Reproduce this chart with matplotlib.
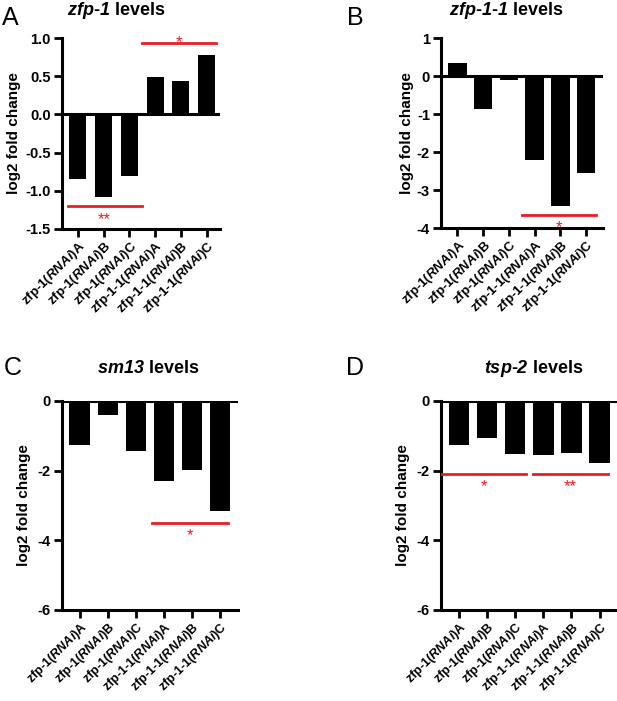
import matplotlib
matplotlib.use('Agg')
import matplotlib.pyplot as plt

plt.rcParams['font.family'] = ['Liberation Sans', 'DejaVu Sans']
plt.rcParams['font.weight'] = 'bold'
plt.rcParams['mathtext.fontset'] = 'custom'
# everything inside $...$ is bold italic (digits included)
plt.rcParams['mathtext.it'] = 'Liberation Sans:italic:bold'
plt.rcParams['mathtext.rm'] = 'Liberation Sans:italic:bold'
plt.rcParams['mathtext.bf'] = 'Liberation Sans:italic:bold'

samples = [r'zfp-1($RNAi$)A',
           r'zfp-1($RNAi$)B',
           r'zfp-1($RNAi$)C',
           r'zfp-1-1($RNAi$)A',
           r'zfp-1-1($RNAi$)B',
           r'zfp-1-1($RNAi$)C']

zfp1_vals = [-0.85, -1.08, -0.80, 0.49, 0.44, 0.78]
zfp11_vals = [0.33, -0.88, -0.10, -2.20, -3.42, -2.56]
sm13_vals = [-1.27, -0.41, -1.43, -2.29, -1.99, -3.15]
tsp2_vals = [-1.27, -1.05, -1.53, -1.55, -1.50, -1.79]

titles = [r'$zfp$-$1$ levels',
          r'$zfp$-$1$-$1$ levels',
          r'$sm13$ levels',
          r'$tsp$-$2$ levels']

# significance lines: (x start, x end, y, stars, star baseline y)
sig_A = [(2.47, 5.35, 0.93, '*', 0.88), (-0.4, 2.47, -1.20, '**', -1.44)]
sig_B = [(2.5, 5.38, -3.66, '*', -4.1)]
sig_C = [(2.57, 5.3, -3.50, '*', -4.0)]
sig_D = [(-0.6, 2.38, -2.09, '*', -2.6), (2.63, 5.29, -2.09, '**', -2.6)]

W, H = 617, 701
RED = '#ec1c24'

fig = plt.figure(figsize=(W / 100, H / 100), dpi=100)


def px_axes(left, top, right, bottom):
    return fig.add_axes([left / W, 1 - bottom / H, (right - left) / W, (bottom - top) / H])


def draw_panel(ax, vals, ylim, yticks, yfmt, xlim, width, sigs, ylab_x, xfs):
    x = list(range(len(vals)))
    ax.bar(x, vals, width=width, color='black', zorder=2)
    ax.axhline(0, color='black', lw=2.2, zorder=3)
    ax.set_xlim(*xlim)
    ax.set_ylim(*ylim)
    ax.set_yticks(yticks)
    ax.set_yticklabels([yfmt.format(t) for t in yticks], fontsize=10.5, fontweight='bold')
    ax.set_xticks(x)
    ax.set_xticklabels(samples, rotation=45, ha='right', va='top',
                       rotation_mode='anchor', fontsize=xfs, fontweight='bold')
    for s in ['top', 'right']:
        ax.spines[s].set_visible(False)
    for s in ['left', 'bottom']:
        ax.spines[s].set_linewidth(2.2)
    ax.tick_params(axis='both', length=6, width=2.0, pad=2)
    ax.tick_params(axis='x', pad=1)
    ax.set_ylabel('log2 fold change', fontsize=11, fontweight='bold')
    ax.yaxis.label.set_va('center')
    ax.yaxis.set_label_coords(ylab_x, 0.5)
    for x0, x1, y, stars, sy in sigs:
        ax.plot([x0, x1], [y, y], color=RED, lw=2.0, clip_on=False, zorder=4)
        ax.text((x0 + x1) / 2, sy, stars, color=RED, fontsize=12, ha='center',
                va='baseline', fontweight='normal', clip_on=False)


axA = px_axes(62, 38, 220, 229)
draw_panel(axA, zfp1_vals, (-1.5, 1.0), [1.0, 0.5, 0.0, -0.5, -1.0, -1.5], '{:.1f}',
           (-0.62, 5.52), 0.66, sig_A, (14.5 - 62) / 158, 9.5)

axB = px_axes(441, 38, 603, 228)
draw_panel(axB, zfp11_vals, (-4, 1), [1, 0, -1, -2, -3, -4], '{:d}',
           (-0.64, 5.66), 0.72, sig_B, (407 - 441) / 162, 9.5)

axC = px_axes(62, 401, 238, 610)
draw_panel(axC, sm13_vals, (-6, 0), [0, -2, -4, -6], '{:d}',
           (-0.63, 5.64), 0.73, sig_C, (24 - 62) / 176, 9.1)

axD = px_axes(441, 401, 617, 610)
draw_panel(axD, tsp2_vals, (-6, 0), [0, -2, -4, -6], '{:d}',
           (-0.64, 5.62), 0.73, sig_D, (403.5 - 441) / 176, 9.1)

# panel letters and titles
for letter, lx, ly in [('A', 2, 25), ('B', 347, 25), ('C', 4, 375), ('D', 346, 375)]:
    fig.text(lx / W, 1 - ly / H, letter, fontsize=18, fontweight='normal',
             ha='left', va='baseline')

for title, tx, ty in zip(titles, [116, 506, 148, 534], [15, 15, 373, 373]):
    fig.text(tx / W, 1 - ty / H, title, fontsize=13, fontweight='bold',
             ha='center', va='baseline')

fig.savefig('out.png', dpi=100)
